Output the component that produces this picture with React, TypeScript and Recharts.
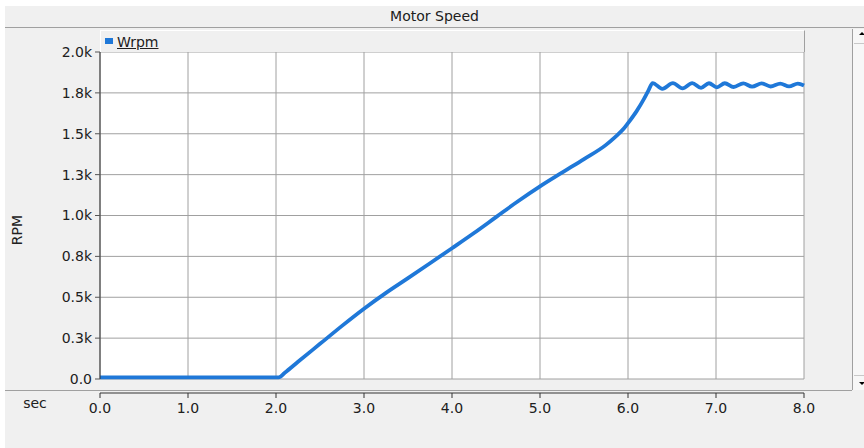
import { CartesianGrid, Label, Legend, Line, LineChart, XAxis, YAxis } from "recharts";

const FONT = '"DejaVu Sans", Verdana, sans-serif';
const BLUE = "#1f78d8";
const PANEL = "#f0f0f0";
const EDGE = "#a0a0a0";
const INK = "#202020";

// simulation time (sec) and rotor speed (RPM)
const times = [
  0, 1, 2, 2.03, 2.1, 2.25, 2.5, 2.75, 3.0, 3.25, 3.5, 3.75, 4.0, 4.25, 4.5,
  4.75, 5.0, 5.25, 5.5, 5.75, 5.85, 5.95, 6.0, 6.1, 6.18, 6.23, 6.28, 6.39, 6.51,
  6.62, 6.73, 6.83, 6.92, 7.01, 7.1, 7.2, 7.31, 7.41, 7.52, 7.62, 7.73, 7.83,
  7.93, 8.0,
];
const wrpm = [
  10, 10, 10, 10, 38, 105, 215, 325, 430, 527, 617, 708, 800, 893, 990,
  1087, 1178, 1262, 1345, 1432, 1478, 1530, 1565, 1640, 1712, 1762, 1810, 1775, 1810,
  1778, 1810, 1781, 1809, 1784, 1809, 1786, 1808, 1788, 1808, 1789, 1807, 1790,
  1807, 1795,
];

const xTicks = [0, 1, 2, 3, 4, 5, 6, 7, 8];
const xTickLabels = ["0.0", "1.0", "2.0", "3.0", "4.0", "5.0", "6.0", "7.0", "8.0"];
const yTicks = [0, 250, 500, 750, 1000, 1250, 1500, 1750, 2000];
const yTickLabels = ["0.0", "0.3k", "0.5k", "0.8k", "1.0k", "1.3k", "1.5k", "1.8k", "2.0k"];

const data = times.map((t, i) => ({ t, Wrpm: wrpm[i] }));

const XTick = (props: any) => {
  const { x, y, payload } = props;
  const label = xTickLabels[xTicks.indexOf(payload.value)];
  return (
    <g>
      <line x1={x} y1={y + 14} x2={x} y2={y + 19} stroke="#333" />
      <text x={x} y={y + 29} textAnchor="middle" dominantBaseline="central" fill={INK} fontSize={14} fontFamily={FONT}>
        {label}
      </text>
    </g>
  );
};

const LegendBox = (props: any) => {
  const name = props.payload?.[0]?.value ?? "Wrpm";
  return (
    <div
      style={{
        width: 705,
        height: 22,
        boxSizing: "border-box",
        borderTop: "1px solid #fff",
        borderLeft: "1px solid #fff",
        borderRight: `1px solid ${EDGE}`,
        background: PANEL,
        position: "relative",
        fontFamily: FONT,
        fontSize: 14,
      }}
    >
      <span style={{ position: "absolute", left: 4, top: 7, width: 8, height: 6, background: BLUE }} />
      <span style={{ position: "absolute", left: 16, top: 2, lineHeight: "18px", color: INK, textDecoration: "underline" }}>
        {name}
      </span>
    </div>
  );
};

export default function App() {
  return (
    <div style={{ position: "relative", width: 864, height: 448, background: "#fff", overflow: "hidden" }}>
      <style>{"body{margin:0}"}</style>
      <div style={{ position: "absolute", left: 5, top: 6, width: 859, height: 442, background: PANEL }} />
      <div
        style={{
          position: "absolute",
          left: 5,
          top: 6,
          width: 859,
          height: 21,
          borderBottom: `1px solid ${EDGE}`,
          textAlign: "center",
          lineHeight: "21px",
          fontFamily: FONT,
          fontSize: 14,
          color: INK,
        }}
      >
        Motor Speed
      </div>
      {/* separator under the plot */}
      <div style={{ position: "absolute", left: 5, top: 390, width: 847, height: 1, background: EDGE }} />
      {/* scrollbar */}
      <div
        style={{
          position: "absolute",
          left: 852,
          top: 29,
          width: 12,
          height: 361,
          boxSizing: "border-box",
          borderLeft: `1px solid ${EDGE}`,
          background: "#f7f7f7",
        }}
      >
        <div style={{ position: "absolute", left: 1, top: 0, width: 11, height: 14, borderBottom: "1px solid #c8c8c8" }}>
          <div style={{ position: "absolute", left: 5, top: 3, width: 0, height: 0, borderLeft: "3px solid transparent", borderRight: "3px solid transparent", borderBottom: "3px solid #000" }} />
        </div>
        <div style={{ position: "absolute", left: 1, top: 346, width: 11, height: 15, borderTop: "1px solid #c8c8c8" }}>
          <div style={{ position: "absolute", left: 5, top: 6, width: 0, height: 0, borderLeft: "3px solid transparent", borderRight: "3px solid transparent", borderTop: "3px solid #000" }} />
        </div>
      </div>
      <div style={{ position: "absolute", left: 0, top: 0 }}>
        <LineChart width={864} height={448} data={data} margin={{ top: 52, right: 60, bottom: 39, left: 40 }}>
          <CartesianGrid stroke={EDGE} fill="#fff" horizontalValues={yTicks} verticalValues={xTicks} />
          <XAxis
            dataKey="t"
            type="number"
            domain={[0, 8]}
            ticks={xTicks}
            interval={0}
            height={30}
            tickSize={0}
            tickMargin={0}
            tickLine={false}
            axisLine={{ stroke: "#333", transform: "translate(0 14)" } as any}
            tick={<XTick />}
          >
            <Label
              content={() => (
                <text x={35} y={403} textAnchor="middle" dominantBaseline="central" fill={INK} fontSize={14} fontFamily={FONT}>
                  sec
                </text>
              )}
            />
          </XAxis>
          <YAxis
            type="number"
            domain={[0, 2000]}
            ticks={yTicks}
            interval={0}
            width={60}
            tickSize={5}
            tickMargin={3}
            tickFormatter={(v: number) => yTickLabels[yTicks.indexOf(v)]}
            tick={{ fill: INK, fontSize: 14, fontFamily: FONT }}
            tickLine={{ stroke: "#555" }}
            axisLine={{ stroke: "#333" }}
          >
            <Label
              content={() => (
                <text x={17} y={230} transform="rotate(-90 17 230)" textAnchor="middle" dominantBaseline="central" fill={INK} fontSize={14} fontFamily={FONT}>
                  RPM
                </text>
              )}
            />
          </YAxis>
          <Legend
            layout="horizontal"
            verticalAlign="middle"
            align="center"
            content={<LegendBox />}
            wrapperStyle={{ top: 30, left: 100, width: 705, height: 22 }}
          />
          <Line
            type="monotone"
            dataKey="Wrpm"
            name="Wrpm"
            stroke={BLUE}
            strokeWidth={3.8}
            dot={false}
            isAnimationActive={false}
          />
        </LineChart>
      </div>
    </div>
  );
}
